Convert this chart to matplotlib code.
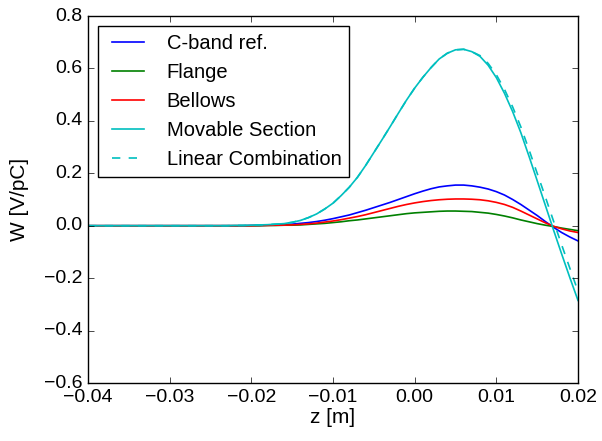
import numpy as np
import matplotlib
matplotlib.use("Agg")
import matplotlib.pyplot as plt

# z grid in metres, one point per mm
z = np.round(np.arange(-0.040, 0.0205, 0.001), 3)

# wake potentials W [V/pC]
cband = [0.0] * 20 + [
    0.001, 0.001, 0.002, 0.003, 0.004, 0.006, 0.009, 0.012, 0.016, 0.021,
    0.027, 0.034, 0.041, 0.050, 0.059, 0.069, 0.079, 0.089, 0.100, 0.111,
    0.122, 0.132, 0.141, 0.148, 0.152, 0.155, 0.155, 0.152, 0.147, 0.140,
    0.130, 0.117, 0.100, 0.081, 0.060, 0.039, 0.016, -0.006, -0.026, -0.043,
    -0.058]
flange = [0.0] * 20 + [
    0.000, 0.000, 0.001, 0.001, 0.002, 0.002, 0.003, 0.005, 0.007, 0.009,
    0.012, 0.015, 0.019, 0.022, 0.026, 0.030, 0.034, 0.038, 0.042, 0.046,
    0.049, 0.051, 0.053, 0.055, 0.056, 0.056, 0.055, 0.054, 0.051, 0.048,
    0.043, 0.037, 0.030, 0.022, 0.015, 0.008, 0.002, -0.003, -0.009, -0.014,
    -0.019]
bellows = [0.0] * 20 + [
    0.000, 0.001, 0.001, 0.002, 0.002, 0.003, 0.005, 0.007, 0.010, 0.014,
    0.018, 0.023, 0.029, 0.035, 0.042, 0.050, 0.058, 0.066, 0.074, 0.081,
    0.087, 0.092, 0.096, 0.099, 0.101, 0.102, 0.102, 0.101, 0.099, 0.095,
    0.089, 0.081, 0.070, 0.056, 0.041, 0.026, 0.011, -0.002, -0.012, -0.020,
    -0.026]
movable = [0.0] * 18 + [
    0.001, 0.001, 0.002, 0.003, 0.004, 0.006, 0.008, 0.013, 0.020, 0.031,
    0.045, 0.064, 0.086, 0.115, 0.147, 0.185, 0.230, 0.279, 0.328, 0.378,
    0.429, 0.479, 0.525, 0.566, 0.603, 0.636, 0.658, 0.671, 0.673, 0.664,
    0.646, 0.612, 0.565, 0.505, 0.435, 0.355, 0.265, 0.172, 0.078, -0.016,
    -0.108, -0.198, -0.285]
# linear combination follows the movable section up to z = 7 mm
linear = movable[:48] + [
    0.649, 0.619, 0.576, 0.520, 0.453, 0.377, 0.290, 0.200, 0.110, 0.018,
    -0.073, -0.162, -0.250]

labels = ["C-band ref.", "Flange", "Bellows", "Movable Section", "Linear Combination"]

plt.style.use("classic")
plt.rcParams["font.family"] = ["Liberation Sans", "DejaVu Sans"]
plt.rcParams["font.size"] = 14
plt.rcParams["axes.unicode_minus"] = True

fig = plt.figure(figsize=(6.02, 4.41), dpi=100, facecolor="white")
ax = fig.add_axes([88 / 602, 1 - 383 / 441, 490 / 602, 367 / 441])

lw = 1.2
ax.plot(z, cband, color="b", lw=lw, label=labels[0])
ax.plot(z, flange, color="g", lw=lw, label=labels[1])
ax.plot(z, bellows, color="r", lw=lw, label=labels[2])
ax.plot(z, movable, color="c", lw=lw, label=labels[3])
ax.plot(z, linear, color="c", lw=lw, ls="--", label=labels[4])

ax.set_xlim(-0.04, 0.02)
ax.set_ylim(-0.6, 0.8)
ax.set_xticks(np.round(np.arange(-0.04, 0.0201, 0.01), 2))
ax.set_yticks(np.round(np.arange(-0.6, 0.801, 0.2), 1))
ax.tick_params(labelsize=14)
ax.set_xlabel("z [m]", fontsize=15, labelpad=2)
ax.set_ylabel("W [V/pC]", fontsize=15, labelpad=11)

ax.legend(loc="upper left", fontsize=14.5, frameon=True, fancybox=False,
          handlelength=2.2, borderaxespad=0.5)

fig.savefig("out.png", dpi=100, facecolor="white")
